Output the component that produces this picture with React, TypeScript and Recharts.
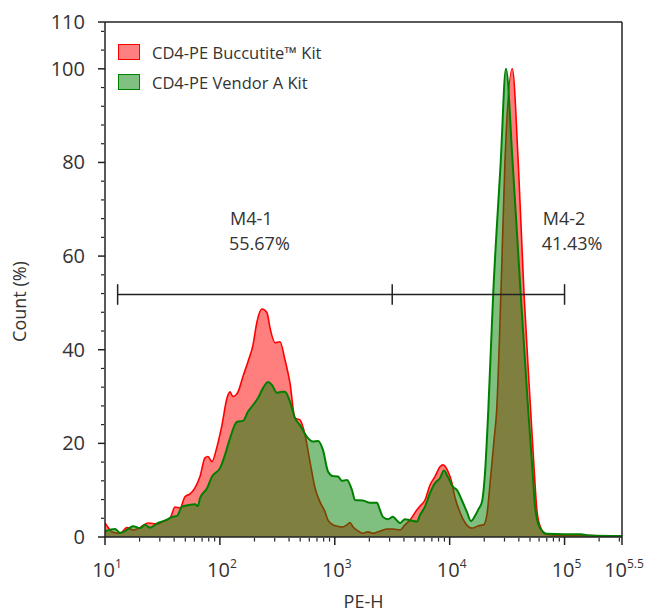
import { ComposedChart, Area, XAxis, YAxis, ReferenceLine, ReferenceDot } from 'recharts'

// PE-H stored as log10 exponent, Count in %
const buccutitePE = [
  1.0, 1.07, 1.131, 1.191, 1.244, 1.305, 1.374, 1.453, 1.505, 1.566, 1.609, 1.653, 1.696, 1.74, 1.783,
  1.827, 1.87, 1.896, 1.931, 1.975, 2.018, 2.062, 2.088, 2.114, 2.158, 2.201, 2.245, 2.288, 2.323, 2.366,
  2.41, 2.436, 2.48, 2.523, 2.567, 2.61, 2.654, 2.697, 2.741, 2.784, 2.828, 2.871, 2.915, 2.941, 2.984,
  3.028, 3.063, 3.106, 3.132, 3.158, 3.202, 3.245, 3.289, 3.332, 3.376, 3.454, 3.507, 3.567, 3.611, 3.654,
  3.715, 3.742, 3.785, 3.829, 3.872, 3.916, 3.942, 3.985, 4.02, 4.046, 4.09, 4.133, 4.194, 4.251, 4.295,
  4.325, 4.351, 4.386, 4.409, 4.446, 4.481, 4.545, 4.597, 4.647, 4.705, 4.734, 4.76, 4.792, 4.836, 4.96,
  5.134, 5.308, 5.5,
]
const buccutiteCount = [
  3, 1, 0.8, 2, 1.5, 2, 3, 2.8, 3.3, 4, 6.4, 6.2, 8.6, 9.2, 10.5,
  12.9, 16.9, 17.2, 16.1, 19.3, 23.9, 29.7, 31, 30, 31, 34.3, 37.5, 41, 46, 48.7,
  47.9, 44.7, 41.5, 41.7, 37.8, 32.9, 25.4, 25, 21.8, 16.1, 10.5, 7.5, 5.4, 3.6, 2.6,
  2.3, 2.1, 2.6, 3.1, 2.2, 1.3, 0.8, 1.1, 0.8, 1.1, 1.7, 1.7, 1.5, 2.6, 3.6,
  5.8, 6.6, 7.9, 11.1, 12.9, 15, 15.4, 14, 11.5, 8.5, 5.3, 3.1, 1.9, 2.4, 2.6,
  4.9, 11.3, 20.7, 27, 52, 80, 100, 80, 52, 27, 15, 5.6, 2, 0.6, 0.4,
  0.4, 0.2, 0.1,
]

const vendorPE = [
  1.0, 1.087, 1.131, 1.191, 1.244, 1.305, 1.348, 1.392, 1.461, 1.54, 1.583, 1.627, 1.67, 1.722, 1.783,
  1.809, 1.827, 1.888, 1.931, 2.001, 2.044, 2.088, 2.149, 2.201, 2.245, 2.288, 2.332, 2.375, 2.419, 2.453,
  2.497, 2.54, 2.567, 2.61, 2.654, 2.697, 2.758, 2.81, 2.854, 2.897, 2.941, 2.984, 3.028, 3.063, 3.106,
  3.15, 3.176, 3.245, 3.306, 3.367, 3.393, 3.419, 3.463, 3.507, 3.541, 3.567, 3.611, 3.654, 3.715, 3.742,
  3.785, 3.829, 3.872, 3.916, 3.95, 3.985, 4.029, 4.064, 4.107, 4.151, 4.185, 4.22, 4.252, 4.281, 4.307,
  4.336, 4.379, 4.444, 4.49, 4.548, 4.618, 4.684, 4.719, 4.748, 4.792, 4.847, 5.003, 5.143, 5.221, 5.5,
]
const vendorCount = [
  1.2, 1.7, 0.9, 1.5, 2.3, 1.9, 2.6, 2, 3, 3.7, 4.3, 4.5, 6.5, 6.8, 7,
  6.6, 8.3, 10.4, 12.9, 14.7, 17.5, 21.1, 24.6, 24.8, 26.8, 28.2, 29.7, 31.8, 33.1, 32.5,
  30.8, 31, 31, 28.9, 25.4, 23.9, 21.4, 20.4, 20.5, 18.6, 14, 13, 12.9, 12, 12.2,
  10, 7.9, 7.8, 7.3, 7.3, 5.8, 4.3, 3.8, 4.3, 3.5, 3, 3.8, 3.6, 3.3, 4.7,
  6.5, 9.4, 11.5, 12.6, 14.2, 12.8, 10.7, 10, 7.8, 5.3, 3.4, 4.5, 6, 7.5, 13.5,
  27, 52, 80, 100, 80, 52, 27, 15, 5.5, 1.7, 0.7, 0.6, 0.6, 0.3, 0.2,
]

const xMajorTicks = [1, 2, 3, 4, 5, 5.5]
const xMinorTicks = [
  ...[1, 2, 3, 4].flatMap((d) => [2, 3, 4, 5, 6, 7, 8, 9].map((k) => d + Math.log10(k))),
  5 + Math.log10(2),
  5 + Math.log10(3),
]
const yMajorTicks = [0, 20, 40, 60, 80, 100, 110]
const yMinorTicks = [4, 8, 12, 16, 24, 28, 32, 36, 44, 48, 52, 56, 64, 68, 72, 76, 84, 88, 92, 96, 104, 108]

// M4 gates
const gateEdges = [1.11, 3.5, 5.0]
const gateLevel = 51.8
const gateNames = ['M4-1', 'M4-2']
const gatePercents = ['55.67%', '41.43%']
const gateLabelPE = [2.088, 4.81]
const gateLabelCount = 66.7

const series = [
  { key: 'buccutite', name: 'CD4-PE Buccutite™ Kit', color: '#ff0000', swatch: '#ff8080' },
  { key: 'vendor', name: 'CD4-PE Vendor A Kit', color: '#008000', swatch: '#80c080' },
]

type Row = { pe: number; buccutite: number | null; vendor: number | null }
const rows = new Map<number, Row>()
buccutitePE.forEach((pe, i) => {
  const r = rows.get(pe) ?? { pe, buccutite: null, vendor: null }
  r.buccutite = buccutiteCount[i]
  rows.set(pe, r)
})
vendorPE.forEach((pe, i) => {
  const r = rows.get(pe) ?? { pe, buccutite: null, vendor: null }
  r.vendor = vendorCount[i]
  rows.set(pe, r)
})
const data = [...rows.values()].sort((a, b) => a.pe - b.pe)

const AXIS = '#222'
const TEXT = '#333'

// eslint-disable-next-line @typescript-eslint/no-explicit-any
function PowerTick({ x, y, payload }: any) {
  return (
    <text x={x + 2} y={y + 30} textAnchor="middle" fill={TEXT} fontSize={20}>
      10
      <tspan dy={-9} fontSize={12}>{payload.value}</tspan>
    </text>
  )
}

// eslint-disable-next-line @typescript-eslint/no-explicit-any
function CountTick({ x, y, payload }: any) {
  return (
    <text x={x} y={y} dy="0.35em" textAnchor="end" fill={TEXT} fontSize={20}>
      {payload.value}
    </text>
  )
}

const noTick = () => <g />

export default function App() {
  return (
    <div
      style={{
        position: 'absolute',
        left: 0,
        top: 0,
        width: 645,
        height: 613,
        background: '#fff',
        fontFamily: '"Open Sans", sans-serif',
      }}
    >
      <ComposedChart width={645} height={613} data={data} margin={{ top: 21, right: 22, left: 103, bottom: 74 }}>
        <XAxis
          dataKey="pe"
          type="number"
          domain={[1, 5.5]}
          ticks={xMajorTicks}
          interval={0}
          allowDataOverflow
          height={1}
          tickSize={8}
          stroke={AXIS}
          strokeWidth={1.5}
          tick={<PowerTick />}
          label={{
            content: ({ viewBox }: any) => (
              <text x={viewBox.x + viewBox.width / 2} y={608} textAnchor="middle" fill={TEXT} fontSize={18}>
                PE-H
              </text>
            ),
          }}
        />
        <XAxis
          xAxisId="minor"
          dataKey="pe"
          type="number"
          domain={[1, 5.5]}
          ticks={xMinorTicks}
          interval={0}
          allowDataOverflow
          height={1}
          tickSize={3.5}
          axisLine={false}
          stroke={AXIS}
          strokeWidth={1.2}
          tick={noTick}
        />
        <XAxis
          xAxisId="top"
          orientation="top"
          type="number"
          domain={[1, 5.5]}
          allowDataOverflow
          height={1}
          tick={false}
          tickLine={false}
          stroke={AXIS}
          strokeWidth={1.5}
        />
        <YAxis
          type="number"
          domain={[0, 110]}
          ticks={yMajorTicks}
          interval={0}
          allowDataOverflow
          width={1}
          tickSize={7}
          tickMargin={13}
          stroke={AXIS}
          strokeWidth={1.5}
          tick={<CountTick />}
          label={{
            content: ({ viewBox }: any) => {
              const cx = 20
              const cy = viewBox.y + viewBox.height / 2 + 22
              return (
                <text x={cx} y={cy} transform={`rotate(-90 ${cx} ${cy})`} textAnchor="middle" dy="0.35em" fill={TEXT} fontSize={18}>
                  Count (%)
                </text>
              )
            },
          }}
        />
        <YAxis
          yAxisId="minor"
          type="number"
          domain={[0, 110]}
          ticks={yMinorTicks}
          interval={0}
          allowDataOverflow
          width={1}
          tickSize={3}
          axisLine={false}
          stroke={AXIS}
          strokeWidth={1.2}
          tick={noTick}
        />
        <YAxis
          yAxisId="right"
          orientation="right"
          type="number"
          domain={[0, 110]}
          allowDataOverflow
          width={1}
          tick={false}
          tickLine={false}
          stroke={AXIS}
          strokeWidth={1.5}
        />

        {series.map((s) => (
          <Area
            key={s.key}
            dataKey={s.key}
            name={s.name}
            type="monotone"
            stroke={s.color}
            strokeWidth={s.key === 'vendor' ? 2 : 1.6}
            fill={s.color}
            fillOpacity={0.5}
            connectNulls
            dot={false}
            activeDot={false}
            isAnimationActive={false}
          />
        ))}

        <ReferenceLine
          segment={[{ x: gateEdges[0], y: gateLevel }, { x: gateEdges[gateEdges.length - 1], y: gateLevel }]}
          stroke={AXIS}
          strokeWidth={1.5}
        />
        {gateEdges.map((e) => (
          <ReferenceLine
            key={e}
            segment={[{ x: e, y: gateLevel - 2.2 }, { x: e, y: gateLevel + 2.2 }]}
            stroke={AXIS}
            strokeWidth={1.5}
          />
        ))}
        {gateNames.map((n, i) => (
          <ReferenceDot
            key={n}
            x={gateLabelPE[i]}
            y={gateLabelCount}
            r={0}
            fill="none"
            stroke="none"
            label={{
              content: ({ viewBox }: any) => (
                <text x={viewBox.x} y={viewBox.y} fill={TEXT} fontSize={18}>
                  <tspan x={viewBox.x}>{n}</tspan>
                  <tspan x={viewBox.x - 1} dy={25}>{gatePercents[i]}</tspan>
                </text>
              ),
            }}
          />
        ))}
      </ComposedChart>

      <div style={{ position: 'absolute', left: 118, top: 37, color: TEXT, fontSize: 16.5 }}>
        {series.map((s) => (
          <div key={s.key} style={{ display: 'flex', alignItems: 'center', height: 30 }}>
            <span
              style={{
                width: 20,
                height: 14,
                background: s.swatch,
                border: `1.5px solid ${s.color}`,
                marginRight: 12,
              }}
            />
            <span>{s.name}</span>
          </div>
        ))}
      </div>
    </div>
  )
}
